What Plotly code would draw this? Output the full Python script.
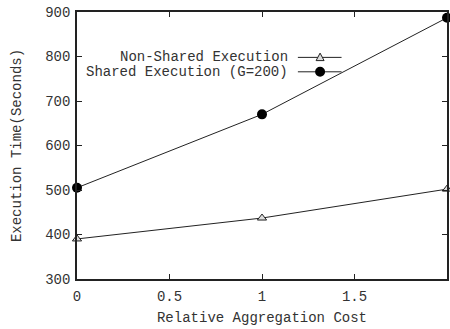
import plotly.graph_objects as go

x_vals = [0, 1, 2]
non_shared = [390, 437, 502]
shared = [505, 670, 887]
series_names = ["Non-Shared Execution", "Shared Execution (G=200)"]
x_ticks = [0, 0.5, 1, 1.5, 2]
x_tick_text = ["0", "0.5", "1", "1.5", "2"]
y_ticks = [300, 400, 500, 600, 700, 800, 900]

FONT = "Liberation Mono"
TXT = "#333333"
FS = 14

fig = go.Figure()
fig.add_trace(go.Scatter(x=x_vals, y=non_shared, mode="lines+markers", name=series_names[0],
                         line=dict(color="#222222", width=1),
                         marker=dict(symbol="triangle-up", size=8, color="#dddddd",
                                     line=dict(color="#222222", width=1)),
                         cliponaxis=False, showlegend=False))
fig.add_trace(go.Scatter(x=x_vals, y=shared, mode="lines+markers", name=series_names[1],
                         line=dict(color="#222222", width=1),
                         marker=dict(symbol="circle", size=10, color="#000000"),
                         cliponaxis=False, showlegend=False))

# manual legend (text left of symbol)
legend_y = [0.830, 0.776]
for i, name in enumerate(series_names):
    fig.add_annotation(x=0.5757, y=legend_y[i], xref="paper", yref="paper", text=name,
                       showarrow=False, xanchor="right", yanchor="middle",
                       font=dict(family=FONT, size=FS, color=TXT))
    fig.add_shape(type="line", xref="paper", yref="paper", x0=0.597, x1=0.715,
                  y0=legend_y[i], y1=legend_y[i], line=dict(color="#222222", width=1))
fig.add_shape(type="path", xref="paper", yref="paper",
              path="M 0.6462 0.818 L 0.6678 0.818 L 0.657 0.846 Z",
              fillcolor="#dddddd", line=dict(color="#222222", width=1))
fig.add_shape(type="circle", xref="paper", yref="paper",
              x0=0.6435, x1=0.6705, y0=0.7573, y1=0.7947,
              fillcolor="#000000", line=dict(color="#000000", width=0))

axis_common = dict(showgrid=False, zeroline=False, showline=True, linecolor="#222222",
                   linewidth=1.5, mirror="allticks", ticks="inside", ticklen=5,
                   tickcolor="#222222", automargin=False,
                   tickfont=dict(family=FONT, size=FS, color=TXT))
fig.update_xaxes(range=[0, 2], tickvals=x_ticks, ticktext=x_tick_text, ticklabelstandoff=3,
                 title=dict(text="Relative Aggregation Cost", standoff=9,
                            font=dict(family=FONT, size=FS, color=TXT)), **axis_common)
fig.update_yaxes(range=[300, 900], tickvals=y_ticks, ticklabelstandoff=2,
                 title=dict(text="Execution Time(Seconds)", standoff=20,
                            font=dict(family=FONT, size=FS, color=TXT)), **axis_common)

fig.update_layout(width=450, height=329, margin=dict(l=77, r=3, t=12, b=50),
                  plot_bgcolor="white", paper_bgcolor="white", showlegend=False)
fig.write_html("out.html", post_script="document.body.style.margin='0';",
               config={"displayModeBar": False})
